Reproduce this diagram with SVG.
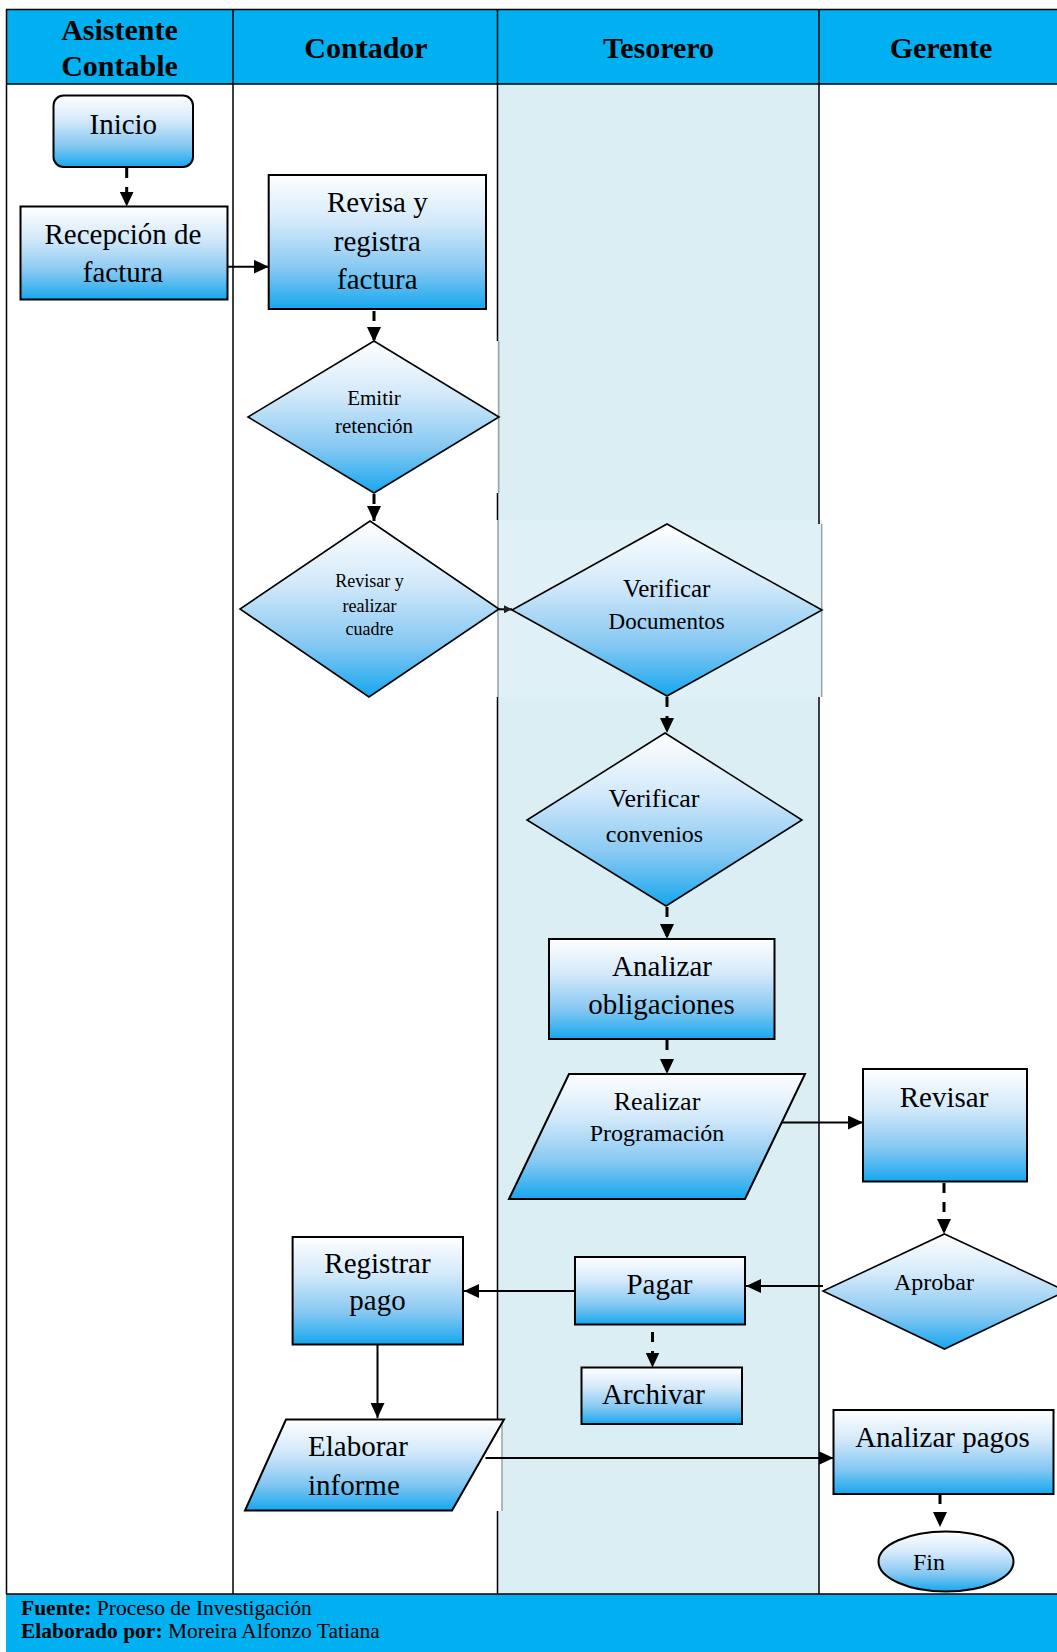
<svg xmlns="http://www.w3.org/2000/svg" width="1057" height="1652" viewBox="0 0 1057 1652">
<defs>
<linearGradient id="g" x1="0" y1="0" x2="0" y2="1">
<stop offset="0" stop-color="#FFFFFF"/>
<stop offset="0.35" stop-color="#D3E9FA"/>
<stop offset="0.7" stop-color="#86C8F2"/>
<stop offset="1" stop-color="#16A7EE"/>
</linearGradient>
<marker id="ah" markerUnits="userSpaceOnUse" markerWidth="15" markerHeight="14" refX="15" refY="7" orient="auto"><path d="M0,0 L15,7 L0,14 z" fill="#000"/></marker>
<marker id="ahs" markerUnits="userSpaceOnUse" markerWidth="8" markerHeight="8" refX="8" refY="4" orient="auto"><path d="M0,0 L8,4 L0,8 z" fill="#222"/></marker>
<style>
.ln{stroke:#000;stroke-width:1.5;fill:none}
.gl{stroke:#9AA3A6;stroke-width:1.5;fill:none}
.nd{fill:url(#g);stroke:#000;stroke-width:2}
.dm{fill:url(#g);stroke:#000;stroke-width:1.6}
.t{font-family:"Liberation Serif","Times New Roman",serif;fill:#000;text-anchor:middle;font-size:29px}
.h{font-weight:bold;font-size:30px}
.s18{font-size:18px}
.s21{font-size:21px}
.s23{font-size:23px}
.s24{font-size:24px}
.s25{font-size:25px}
.s26{font-size:26px}
.st{text-anchor:start}
.c{stroke:#000;stroke-width:2;fill:none;marker-end:url(#ah)}
.d{stroke:#000;stroke-width:3;fill:none;stroke-dasharray:10 9;marker-end:url(#ah)}
.f{font-family:"Liberation Serif","Times New Roman",serif;fill:#000;font-size:21.5px}
</style>
</defs>
<rect x="0" y="0" width="1057" height="1652" fill="#FFFFFF"/>
<g id="lanes">
<rect x="6" y="9.5" width="1051" height="74.5" fill="#00B0F0"/>
<rect x="497.5" y="84" width="321.5" height="1510" fill="#DAEEF3"/>
<rect x="498" y="520" width="324" height="177" fill="#DFF0F6"/>
<rect x="497" y="1419" width="5" height="92" fill="#FFFFFF"/>
<rect x="6" y="1594" width="1051" height="58" fill="#00B0F0"/>
<path class="ln" d="M6,9.5 H1057 M6,84 H1057 M6,1594 H1057 M6.5,9.5 V1594 M233,9.5 V1594"/>
<path class="ln" d="M497.5,9.5 V341 M497.5,493 V520 M497.5,697 V1419 M497.5,1511 V1594"/>
<path class="ln" d="M819,9.5 V524 M819,697 V1594"/>
<path class="gl" d="M498.7,341 V493 M498,520 V697 M502,1419 V1511 M821.7,524 V697"/>
<text class="t h" x="119.5" y="40">Asistente</text>
<text class="t h" x="119.5" y="76">Contable</text>
<text class="t h" x="366" y="58">Contador</text>
<text class="t h" x="658.5" y="58">Tesorero</text>
<text class="t h" x="941" y="58">Gerente</text>
<text class="f" x="21" y="1615"><tspan font-weight="bold">Fuente:</tspan> Proceso de Investigación</text>
<text class="f" x="21" y="1638"><tspan font-weight="bold">Elaborado por:</tspan> Moreira Alfonzo Tatiana</text>
</g>
<g id="connectors">
<path class="d" d="M126.7,168 V206.5"/>
<path class="c" d="M227.7,266.7 H268.7"/>
<path class="d" d="M374,311 V342"/>
<path class="d" d="M374,494 V521"/>
<path d="M499,609.3 H512" stroke="#000" stroke-width="2" fill="none" marker-end="url(#ahs)"/>
<path class="d" d="M667,697 V733"/>
<path class="d" d="M667,907 V939"/>
<path class="d" d="M667,1040 V1074"/>
<path class="c" d="M776.4,1122.5 H863"/>
<path class="d" d="M944,1183 V1234"/>
<path class="c" d="M823,1286 H746"/>
<path class="c" d="M575,1291 H464"/>
<path class="d" d="M652.5,1332 V1367.5"/>
<path class="c" d="M377.5,1344 V1418"/>
<path class="c" d="M485.5,1458 H833.5"/>
<path class="d" d="M940,1494 V1527"/>
</g>
<g id="n-inicio">
<rect class="nd" x="53.5" y="95.5" width="139.5" height="71.5" rx="10"/>
<text class="t" x="123.3" y="133.5">Inicio</text>
</g>
<g id="n-recepcion">
<rect class="nd" x="20.5" y="206.5" width="207" height="93"/>
<text class="t" x="123" y="243.5">Recepción de</text>
<text class="t" x="123" y="281.5">factura</text>
</g>
<g id="n-revisa">
<rect class="nd" x="268.7" y="175" width="217.3" height="134"/>
<text class="t" x="377.3" y="212">Revisa y</text>
<text class="t" x="377.3" y="250.5">registra</text>
<text class="t" x="377.3" y="288.5">factura</text>
</g>
<g id="n-emitir">
<polygon class="dm" points="374,341 499,417 374,493 248,417"/>
<text class="t s21" x="374" y="405">Emitir</text>
<text class="t s21" x="374" y="432.5">retención</text>
</g>
<g id="n-cuadre">
<polygon class="dm" points="370,521 499,609 369,697 240,609"/>
<text class="t s18" x="369.5" y="586.5">Revisar y</text>
<text class="t s18" x="369.5" y="611.5">realizar</text>
<text class="t s18" x="369.5" y="635">cuadre</text>
</g>
<g id="n-verdoc">
<polygon class="dm" points="667,524 822,610 667,696 512,610"/>
<text class="t s25" x="666.7" y="597">Verificar</text>
<text class="t s23" x="666.7" y="628.5">Documentos</text>
</g>
<g id="n-vercon">
<polygon class="dm" points="665,733 802,820 666,906 527,820"/>
<text class="t s26" x="654" y="807">Verificar</text>
<text class="t s24" x="654.5" y="842">convenios</text>
</g>
<g id="n-analizar">
<rect class="nd" x="549" y="939" width="225.5" height="100"/>
<text class="t" x="662" y="976">Analizar</text>
<text class="t" x="661.5" y="1014">obligaciones</text>
</g>
<g id="n-programacion">
<polygon class="nd" points="569,1074 805,1074 745,1199 509,1199"/>
<text class="t s26" x="657" y="1109.5">Realizar</text>
<text class="t s24" x="657" y="1141">Programación</text>
</g>
<g id="n-revisar">
<rect class="nd" x="863" y="1069" width="164" height="112.5"/>
<text class="t" x="944" y="1107">Revisar</text>
</g>
<g id="n-aprobar">
<polygon class="dm" points="944.5,1234 1066,1291 944.5,1349 823,1291"/>
<text class="t s24" x="934" y="1289.5">Aprobar</text>
</g>
<g id="n-pagar">
<rect class="nd" x="575" y="1257" width="170" height="67.5"/>
<text class="t" x="659.5" y="1293.5">Pagar</text>
</g>
<g id="n-registrar">
<rect class="nd" x="292.6" y="1237" width="170.4" height="107.5"/>
<text class="t" x="377.5" y="1273">Registrar</text>
<text class="t" x="377.5" y="1310">pago</text>
</g>
<g id="n-archivar">
<rect class="nd" x="581.5" y="1367.5" width="160.5" height="56.5"/>
<text class="t" x="653.5" y="1404">Archivar</text>
</g>
<g id="n-elaborar">
<polygon class="nd" points="286,1419.5 504,1419.5 452,1510.5 245,1510.5"/>
<text class="t st" x="308" y="1456">Elaborar</text>
<text class="t st" x="308" y="1495">informe</text>
</g>
<g id="n-analizarpagos">
<rect class="nd" x="833.5" y="1410" width="220" height="84"/>
<text class="t" x="942.5" y="1447">Analizar pagos</text>
</g>
<g id="n-fin">
<ellipse class="nd" cx="946" cy="1561.5" rx="67.5" ry="30"/>
<text class="t s24" x="929" y="1570">Fin</text>
</g>
</svg>
